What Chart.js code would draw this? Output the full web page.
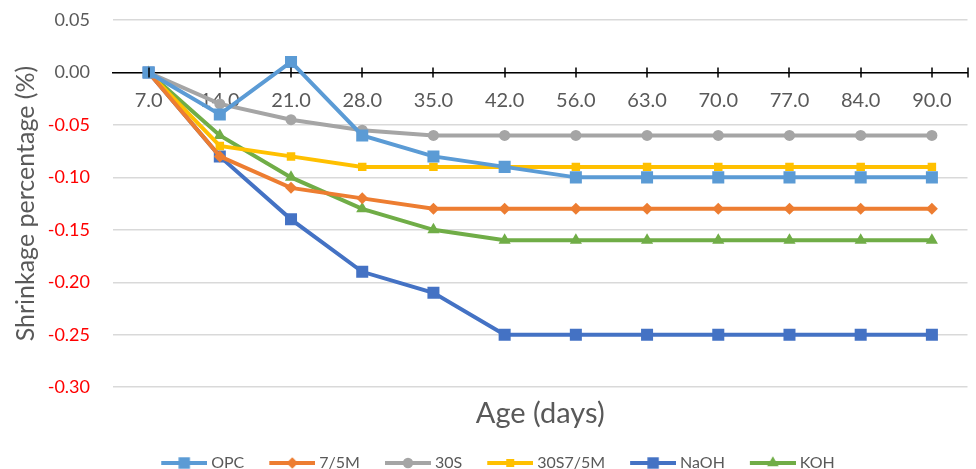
<!DOCTYPE html>
<html>
<head>
<meta charset="utf-8">
<script src="https://cdn.jsdelivr.net/npm/chart.js@4/dist/chart.umd.min.js"></script>
<style>
  html, body { margin: 0; padding: 0; background: #fff; }
  #wrap { width: 976px; height: 469px; }
</style>
</head>
<body>
<div id="wrap"><canvas id="c"></canvas></div>
<script>
// Age at measurement (days)
const ages = ['7.0', '14.0', '21.0', '28.0', '35.0', '42.0', '56.0', '63.0', '70.0', '77.0', '84.0', '90.0'];

// Drying shrinkage (%) per mix
const opc      = [0, -0.04, 0.01, -0.06, -0.08, -0.09, -0.10, -0.10, -0.10, -0.10, -0.10, -0.10];
const m75      = [0, -0.08, -0.11, -0.12, -0.13, -0.13, -0.13, -0.13, -0.13, -0.13, -0.13, -0.13];
const s30      = [0, -0.03, -0.045, -0.055, -0.06, -0.06, -0.06, -0.06, -0.06, -0.06, -0.06, -0.06];
const s30m75   = [0, -0.07, -0.08, -0.09, -0.09, -0.09, -0.09, -0.09, -0.09, -0.09, -0.09, -0.09];
const naoh     = [0, -0.08, -0.14, -0.19, -0.21, -0.25, -0.25, -0.25, -0.25, -0.25, -0.25, -0.25];
const koh      = [0, -0.06, -0.10, -0.13, -0.15, -0.16, -0.16, -0.16, -0.16, -0.16, -0.16, -0.16];

// y-axis ticks
const yMin = -0.30, yMax = 0.05, yStep = 0.05;

const FONT = 'Lato, "Open Sans", sans-serif';
const GREY = '#595959';

function series(label, data, color, style, radius) {
  return {
    label, data,
    borderColor: color, backgroundColor: color,
    borderWidth: 4,
    pointStyle: style, pointRadius: radius, pointHoverRadius: radius,
    pointBorderWidth: 0,
    tension: 0
  };
}

const datasets = [
  series('OPC', opc, '#5B9BD5', 'rect', 8.5),
  series('7/5M', m75, '#ED7D31', 'rectRot', 6),
  series('30S', s30, '#A5A5A5', 'circle', 5.5),
  series('30S7/5M', s30m75, '#FFC000', 'rect', 6),
  series('NaOH', naoh, '#4472C4', 'rect', 8.5),
  series('KOH', koh, '#70AD47', 'triangle', 7)
];

// legend swatch: a short line with the series marker on top.
// The legend reserves BOX px; the visible swatch sits at its right end so
// that it hugs the label text.
const LEAD = 23, SW = 46, BOX = LEAD + 42;
function swatch(ds) {
  const cv = document.createElement('canvas');
  const w = BOX + 8, h = 16;
  cv.width = w; cv.height = h;
  const g = cv.getContext('2d');
  const x0 = LEAD + 4, x1 = x0 + SW, cy = h / 2;
  g.strokeStyle = ds.borderColor; g.lineWidth = 4;
  g.beginPath(); g.moveTo(x0, cy); g.lineTo(x1, cy); g.stroke();
  g.fillStyle = ds.backgroundColor;
  Chart.helpers.drawPoint(g, { pointStyle: ds.pointStyle, radius: ds.pointRadius * 0.95, rotation: 0, borderWidth: 0 }, (x0 + x1) / 2, cy);
  return cv;
}

// crossing tick marks on the category axis at y = 0
const crossTicks = {
  id: 'crossTicks',
  afterDatasetsDraw(chart) {
    const xs = chart.scales.x, ys = chart.scales.y;
    const y0 = ys.getPixelForValue(0);
    const ctx = chart.ctx;
    ctx.save();
    ctx.strokeStyle = '#000'; ctx.lineWidth = 1.5;
    const pos = xs.ticks.map((t, i) => xs.getPixelForTick(i));
    pos.push(xs.right);
    ctx.beginPath();
    pos.forEach(px => { ctx.moveTo(Math.round(px), y0 - 5); ctx.lineTo(Math.round(px), y0 + 5); });
    ctx.stroke();
    ctx.restore();
  }
};

const noSidePadding = scale => { scale.paddingLeft = 0; scale.paddingRight = 0; };

new Chart(document.getElementById('c'), {
  type: 'line',
  data: { labels: ages, datasets },
  plugins: [crossTicks],
  options: {
    responsive: true,
    maintainAspectRatio: false,
    animation: false,
    layout: { padding: { top: 0, right: 3, left: 0, bottom: -12 } },
    plugins: {
      tooltip: { enabled: false },
      legend: {
        position: 'bottom',
        labels: {
          usePointStyle: true,
          pointStyleWidth: BOX,
          padding: 2,
          color: GREY,
          font: { family: FONT, size: 16 },
          generateLabels(chart) {
            return chart.data.datasets.map((ds, i) => ({
              text: ds.label,
              fillStyle: ds.backgroundColor,
              strokeStyle: ds.borderColor,
              lineWidth: 0,
              pointStyle: swatch(ds),
              hidden: false,
              datasetIndex: i,
              fontColor: GREY
            }));
          }
        }
      }
    },
    scales: {
      x: {
        type: 'category',
        position: { y: 0 },
        offset: true,
        grid: { display: true, drawOnChartArea: false, drawTicks: false, offset: false },
        border: { display: true, color: '#000', width: 1.5 },
        ticks: { color: GREY, font: { family: FONT, size: 20 }, padding: 16, maxRotation: 0, autoSkip: false },
        afterFit: noSidePadding
      },
      x2: {
        type: 'category',
        labels: ages,
        position: 'bottom',
        offset: true,
        grid: { display: false },
        border: { display: false },
        ticks: { display: false },
        title: { display: true, text: 'Age (days)', color: GREY, font: { family: FONT, size: 29 }, padding: { top: 1, bottom: 22 } },
        afterFit: noSidePadding
      },
      y: {
        min: yMin, max: yMax,
        grid: { color: '#D9D9D9', lineWidth: 1.5, drawTicks: false },
        border: { display: false },
        ticks: {
          stepSize: yStep,
          padding: 23,
          font: { family: FONT, size: 18 },
          color: ctx => (ctx.tick.value < -1e-9 ? '#FF0000' : GREY),
          callback: v => (Math.abs(v) < 1e-9 ? 0 : v).toFixed(2)
        },
        title: { display: true, text: 'Shrinkage percentage (%)', color: GREY, font: { family: FONT, size: 25 }, padding: { top: 11, bottom: 8 } },
        afterFit: scale => { scale.width = 113; scale.paddingTop = 20; scale.paddingBottom = 0; }
      }
    }
  }
});
</script>
</body>
</html>
